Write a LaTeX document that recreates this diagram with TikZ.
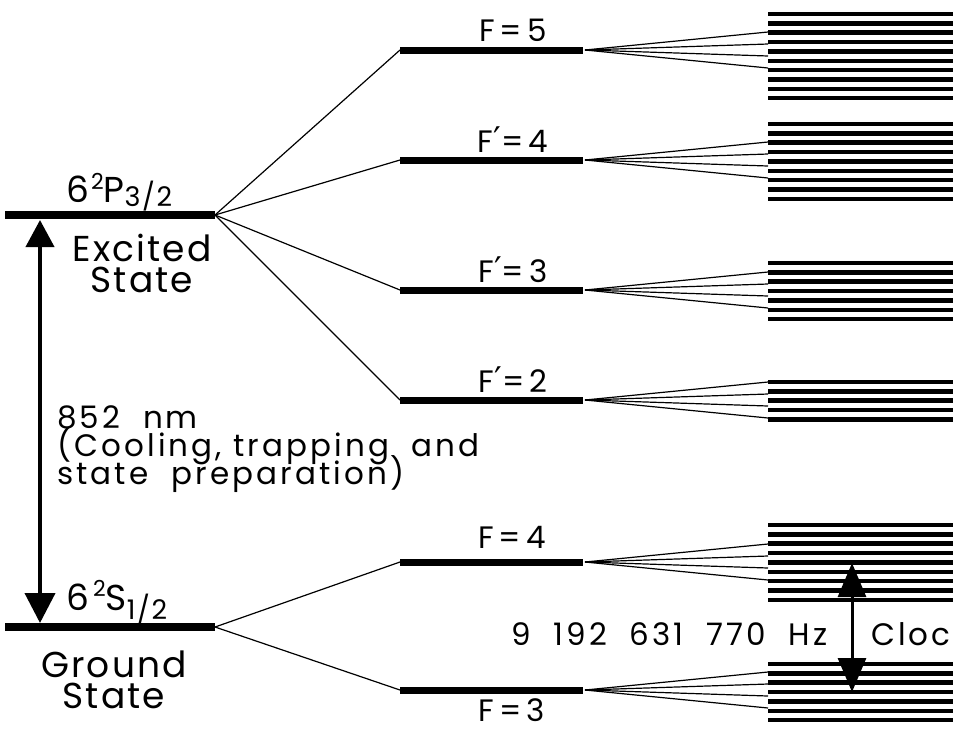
\documentclass[tikz,border=0pt]{standalone}
\usepackage{fontspec}
\setmainfont{Poppins}[LetterSpace=6]
\newfontfamily\symfont{DejaVu Sans}
\usetikzlibrary{arrows.meta}
\newcommand{\bigtxt}{\fontsize{36}{31}\selectfont}
\newcommand{\smtxt}{\fontsize{31}{28}\selectfont\addfontfeatures{LetterSpace=10}}
\newcommand{\pr}{{\symfont\fontsize{34}{34}\selectfont\raisebox{1pt}{′}}}
\begin{document}
\begin{tikzpicture}[x=1pt,y=-1pt,
  level/.style={line width=8pt},
  hfs/.style={line width=7pt},
  fan/.style={line width=1.2pt},
  zl/.style={line width=4.5pt},
  big/.style={font=\bigtxt,inner sep=0pt,anchor=base},
  sm/.style={font=\smtxt,inner sep=0pt,anchor=base},
  bigarrow/.style={line width=4pt,{Triangle[length=27pt,width=28pt]}-{Triangle[length=30pt,width=30pt]}},
  clockarrow/.style={line width=3pt,{Triangle[length=34pt,width=28pt]}-{Triangle[length=34pt,width=28pt]}}]
\useasboundingbox (0,0) rectangle (960,732);
\clip (0,0) rectangle (960,732);
% fine levels
\coordinate (PL) at (5,215); \coordinate (PR) at (215,215);
\coordinate (SL) at (5,627); \coordinate (SR) at (215,627);
\draw[level] (PL) -- (PR);
\draw[level] (SL) -- (SR);
% hyperfine levels
\foreach \nm/\y in {F5/50,F4/160,F3/290,F2/400,G4/562,G3/690}{
  \coordinate (\nm L) at (400,\y);
  \coordinate (\nm R) at (583,\y);
}
\foreach \nm in {F5,F4,F3,F2,G4,G3}{
  \draw[hfs] (\nm L) -- (\nm R);
}
\foreach \nm in {F5,F4,F3,F2}{ \draw[fan] (PR) -- (\nm L); }
\foreach \nm in {G4,G3}{ \draw[fan] (SR) -- (\nm L); }
% Zeeman fans
\foreach \y in {50,160,290,400,562,690}{
  \foreach \o in {-18,-6,6,18}{
    \draw[fan] (585,\y) -- (768,{\y+\o});
  }
}
% Zeeman stacks
\foreach \t/\n in {14/10,124/9,263/7,382/5,525/9,664/7}{
  \foreach \i in {1,...,\n}{
    \draw[zl] (768,{\t+(\i-1)*9.35}) -- (953,{\t+(\i-1)*9.35});
  }
}
% arrows
\coordinate (A1) at (40,220); \coordinate (A2) at (40,623);
\draw[bigarrow] (A1) -- (A2);
\coordinate (C1) at (852,563); \coordinate (C2) at (852,692);
\draw[clockarrow] (C1) -- (C2);
% labels fine structure
\node[big,anchor=base west] (p32) at (66,202) {6\kern2pt\raisebox{13pt}{\fontsize{22}{22}\selectfont 2}P\raisebox{-4pt}{\fontsize{27}{27}\selectfont 3/2}};
\node[big,align=center,anchor=base] (exc) at (142,292) {Excited\\State};
\node[big,anchor=base west] (s12) at (66,610) {6\kern4pt\raisebox{14pt}{\fontsize{22}{22}\selectfont 2}S\raisebox{-9pt}{\fontsize{27}{27}\selectfont 1/2}};
\node[big,align=center,anchor=base] (gr) at (114,708) {Ground\\State};
% hyperfine labels
\node[sm] (l5) at (513,41) {F\kern5pt=\kern5pt5};
\node[sm] (l4) at (513,152) {F\pr=\kern5pt4};
\node[sm] (l3) at (513,282) {F\pr=\kern5pt3};
\node[sm] (l2) at (513,392) {F\pr=\kern5pt2};
\node[sm] (l4g) at (512,548) {F\kern5pt=\kern5pt4};
\node[sm] (l3g) at (512,721) {F\kern5pt=\kern5pt3};
% 852 nm text
\node[sm,anchor=base west] (t1) at (57,428) {852\ \ nm};
\node[sm,anchor=base west] (t2) at (57,456) {(Cooling,\ trapping\ \ and};
\node[sm,anchor=base west] (t3) at (57,484) {state\ \ preparation)};
% clock
\node[sm,anchor=base west] (hz) at (511,645) {9\ \ 192\ \ 631\ \ 770\ \ Hz};
\node[sm,anchor=base west] (clk) at (871,645) {Cloc};
\end{tikzpicture}
\end{document}
